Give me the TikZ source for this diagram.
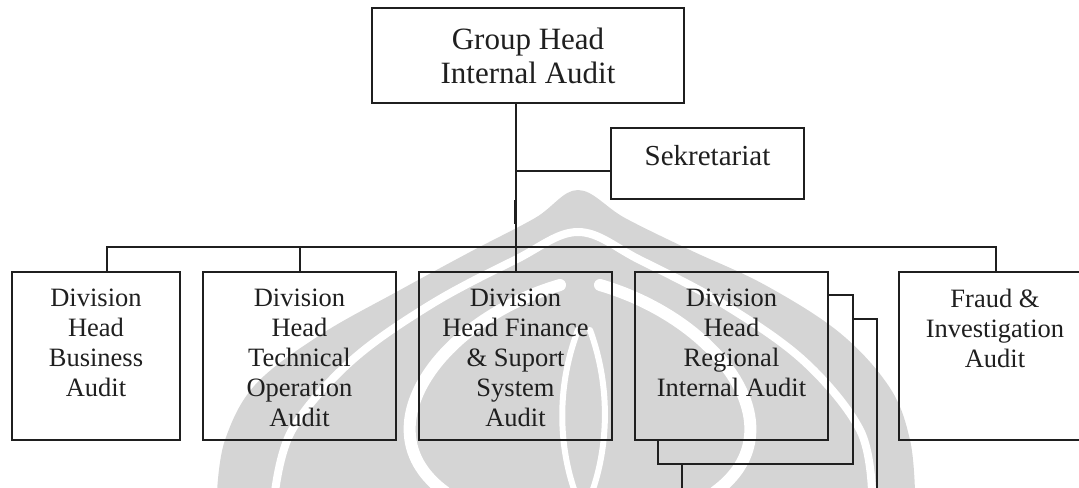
\documentclass[tikz,border=0pt]{standalone}
\usepackage{fontspec}
\setmainfont{Liberation Serif}
\usetikzlibrary{calc}
\begin{document}
\begin{tikzpicture}[x=0.5pt,y=-0.5pt,
  box/.style={draw=black!88, line width=1pt, rectangle, inner sep=0pt},
  btext/.style={align=center, font=\fontsize{13.25}{15}\selectfont, inner sep=0pt, anchor=north, text=black!88},
  conn/.style={draw=black!88, line width=1pt},
  wm/.style={fill=gray!33},
  wmw/.style={draw=white, line width=4pt, line cap=round}]
\useasboundingbox (0,0) rectangle (1079,487);
\clip (0,0) rectangle (1079,487);
% watermark
\fill[wm] plot[smooth, tension=0.6] coordinates {(217,492) (225,440) (255,385) (320,335) (400,290) (470,252) (535,218) (578,190) (625,218) (690,250) (765,285) (840,333) (890,388) (910,440) (915,492)} -- cycle;
\draw[wmw] plot[smooth, tension=0.6] coordinates {(275,492) (292,430) (350,362) (430,305) (515,260) (578,232) (640,260) (725,305) (805,362) (860,430) (872,492)};
\draw[wmw, line width=6pt] (560,285) .. controls (440,320) and (360,430) .. (445,492);
\draw[wmw, line width=6pt] (600,285) .. controls (720,320) and (800,430) .. (715,492);
\draw[wmw, line width=3pt] (578,330) .. controls (555,390) and (560,450) .. (575,492);
\draw[wmw, line width=3pt] (590,330) .. controls (612,390) and (607,450) .. (592,492);
% boxes
\node[box, minimum width=156pt, minimum height=47.5pt, align=center, font=\fontsize{15.5}{17}\selectfont, text=black!88] (gh) at (528,55.5) {Group Head\\Internal Audit};
\node[box, minimum width=96.5pt, minimum height=35.5pt] (sek) at (707.5,163.5) {};
\node[font=\fontsize{14.5}{17}\selectfont, inner sep=0pt, text=black!88] (sekt) at ([yshift=3.75pt]sek.center) {Sekretariat};
\node[box, minimum width=84pt, minimum height=84pt] (b1) at (96,356) {};
\node[box, minimum width=96.5pt, minimum height=84pt] (b2) at (299.5,356) {};
\node[box, minimum width=96.5pt, minimum height=84pt] (b3) at (515.5,356) {};
\node[box, minimum width=96.5pt, minimum height=84pt] (b4) at (731.5,356) {};
\node[box, minimum width=93pt, minimum height=84pt] (b5) at (992,356) {};
\node[btext] (t1) at ([yshift=-9pt]b1.north) {Division\\Head\\Business\\Audit};
\node[btext] (t2) at ([yshift=-9pt]b2.north) {Division\\Head\\Technical\\Operation\\Audit};
\node[btext] (t3) at ([yshift=-9pt]b3.north) {Division\\Head Finance\\\& Suport\\System\\Audit};
\node[btext] (t4) at ([yshift=-9pt]b4.north) {Division\\Head\\Regional\\Internal Audit};
\node[btext] (t5) at ([xshift=1.5pt,yshift=-9pt]b5.north) {Fraud \&\\Investigation\\Audit};
% connectors
\coordinate (bus) at (515.5,247);
\draw[conn] (gh.south -| b3.north) -- (b3.north);
\coordinate (sj) at ([yshift=-3.75pt]sek.west);
\draw[conn] (sj) -- (sj -| b3.north);
\draw[line width=1.6pt, black!88] (b3.north |- sek.south) -- ++(0,24);
\draw[conn] ([xshift=5.5pt]b1.north) |- (bus) -| ([xshift=2pt]b5.north);
\draw[conn] (b2.north) -- (b2.north |- bus);
% stacked frames behind regional box
\coordinate (s1a) at ([yshift=-12pt]b4.north east);
\coordinate (s1c) at ([xshift=11.75pt,yshift=-11.5pt]b4.south east);
\coordinate (s1d) at ([xshift=12pt]b4.south west);
\draw[conn] (s1a) -| (s1c) -| (s1d);
\coordinate (s2a) at ([xshift=11.75pt,yshift=-24pt]b4.north east);
\coordinate (s2b) at ([xshift=24pt,yshift=-28pt]b4.south east);
\draw[conn] (s2a) -| (s2b);
\coordinate (s2c) at ([xshift=24pt,yshift=-11.5pt]b4.south west);
\coordinate (s2d) at ([xshift=24pt,yshift=-28pt]b4.south west);
\draw[conn] (s2c) -- (s2d);
\end{tikzpicture}
\end{document}
